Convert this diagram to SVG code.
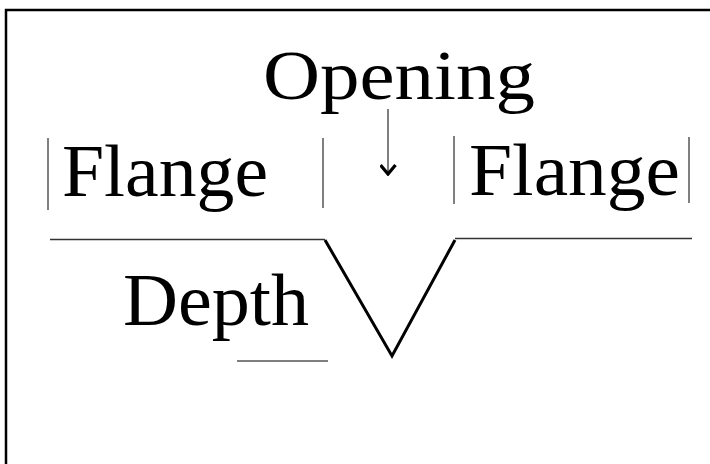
<svg xmlns="http://www.w3.org/2000/svg" width="710" height="464" viewBox="0 0 710 464">
<style>
text{font-family:"Liberation Serif","Times New Roman",serif;fill:#000}
.thin{stroke:#000;stroke-width:1;fill:none}
.mid{stroke:#333;stroke-width:1.5;fill:none}
.v{stroke:#000;stroke-width:3;fill:none;stroke-linejoin:miter}
</style>
<defs>
<marker id="ah" viewBox="0 0 10 10" refX="9" refY="5" markerWidth="15" markerHeight="17" markerUnits="userSpaceOnUse" orient="auto">
<path d="M3,0 L9,5 L3,10" fill="none" stroke="#000" stroke-width="2.2"/>
</marker>
</defs>
<rect x="0" y="0" width="710" height="464" fill="#fff"/>
<path d="M6,470 L6,10 L720,10" fill="none" stroke="#000" stroke-width="2.5"/>
<g id="opening"><text x="263" y="99" font-size="69" textLength="272" lengthAdjust="spacingAndGlyphs">Opening</text></g>
<g id="flange-left"><text x="62" y="196" font-size="73" textLength="206" lengthAdjust="spacingAndGlyphs">Flange</text></g>
<g id="flange-right"><text x="469" y="195" font-size="73" textLength="211" lengthAdjust="spacingAndGlyphs">Flange</text></g>
<g id="depth"><text x="123" y="325" font-size="73" textLength="186" lengthAdjust="spacingAndGlyphs">Depth</text></g>
<g id="connectors">
<line class="thin" x1="388" y1="109" x2="388" y2="174" marker-end="url(#ah)"/>
<line class="thin" x1="48" y1="138" x2="48" y2="210"/>
<line class="thin" x1="323" y1="138" x2="323" y2="208"/>
<line class="thin" x1="454" y1="136" x2="454" y2="204"/>
<line class="thin" x1="689" y1="137" x2="689" y2="203"/>
<line class="mid" x1="50" y1="239.5" x2="325" y2="239.5"/>
<line class="mid" x1="455" y1="238.5" x2="692" y2="238.5"/>
<path class="v" d="M325,240 L392,356 L455,240"/>
<line class="thin" x1="237" y1="361" x2="328" y2="361"/>
</g>
</svg>
